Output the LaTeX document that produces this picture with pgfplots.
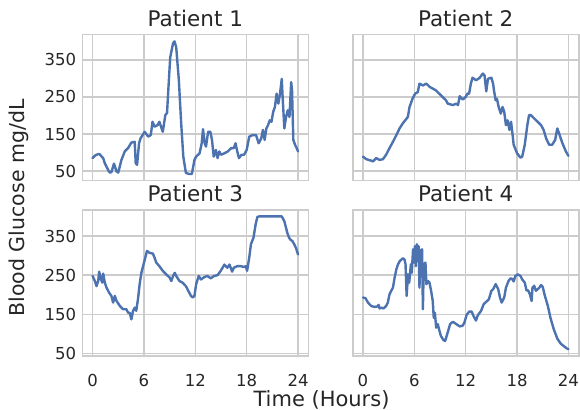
\documentclass[border=0pt]{standalone}
\usepackage{fontspec}
\setmainfont{DejaVu Sans}
\usepackage{pgfplots}
\pgfplotsset{compat=1.18}
\definecolor{sbblue}{HTML}{4C72B0}
\definecolor{gridgray}{HTML}{CCCCCC}
\definecolor{txt}{HTML}{262626}
\pgfplotsset{
  panel/.style={
    scale only axis, width=226bp, height=146bp,
    xmin=-1.2, xmax=25.2,
    xtick={0,6,12,18,24}, ytick={50,150,250,350},
    grid=major,
    major grid style={draw=gridgray, line width=1.4bp},
    axis line style={draw=gridgray, line width=1.6bp},
    major tick length=0pt,
    tick style={draw=none},
    ticklabel style={font=\fontsize{16.5bp}{18bp}\selectfont, text=txt},
    yticklabel style={inner sep=0pt, xshift=-6bp},
    xticklabel style={inner sep=0pt, anchor=north, yshift=-18bp},
    title style={font=\fontsize{21.5bp}{24bp}\selectfont, text=txt, at={(0.5,1)}, anchor=base, yshift=2bp},
    cycle list={{sbblue, line width=2.4bp, line join=round, line cap=round, mark=none}},
    anchor=south west,
    /pgf/number format/assume math mode=true,
  },
  toprow/.style={ymin=24, ymax=418},
  botrow/.style={ymin=44, ymax=417},
  glu/.style={sbblue, line width=2.4bp, line join=round, line cap=round, mark=none},
}
\begin{document}
\begin{tikzpicture}
\path[use as bounding box] (0,0) rectangle (580bp,410bp);

% Patient 1
\begin{axis}[panel, toprow, at={(82.3bp,229.3bp)}, title={Patient 1}, xticklabels={}]
\addplot[glu] coordinates {(0,85) (0.3,92) (0.66,96) (0.85,95) (1.1,88) (1.24,85) (1.43,71) (1.82,53) (2.0,46) (2.2,47) (2.5,70) (2.8,49) (3.0,46) (3.37,80) (3.76,103) (4.15,112) (4.53,127) (4.92,129) (5.04,71) (5.2,67) (5.43,125) (5.6,138) (6.08,156) (6.5,143) (6.8,147) (7.0,183) (7.25,170) (7.6,174) (7.8,183) (8.2,156) (8.5,201) (8.7,207) (8.8,250) (9.07,357) (9.4,395) (9.57,400) (9.77,384) (10.08,295) (10.35,179) (10.6,89) (10.9,45) (11.3,42) (11.6,42) (11.9,80) (12.1,89) (12.5,98) (12.75,125) (12.9,163) (13.1,125) (13.25,116) (13.5,156) (13.76,156) (13.95,134) (14.15,89) (14.4,107) (14.6,85) (14.8,103) (15,94) (15.4,98) (15.8,103) (16.2,112) (16.5,112) (16.7,125) (16.9,103) (17.1,85) (17.4,94) (17.7,94) (18,107) (18.3,143) (18.7,147) (19.1,147) (19.4,125) (19.7,138) (19.9,161) (20.1,134) (20.3,165) (20.5,174) (20.7,187) (20.9,183) (21.1,210) (21.3,223) (21.5,259) (21.7,232) (21.9,259) (22.1,299) (22.2,250) (22.4,165) (22.6,196) (22.8,214) (23.0,196) (23.2,290) (23.3,268) (23.45,134) (23.65,121) (23.84,112) (24,103)};
\end{axis}

% Patient 2
\begin{axis}[panel, toprow, at={(352.7bp,229.3bp)}, title={Patient 2}, xticklabels={}, yticklabels={}]
\addplot[glu] coordinates {(0,89) (0.39,82) (0.97,78) (1.17,76) (1.55,85) (1.94,80) (2.33,82) (2.7,94) (3.1,112) (3.5,129) (3.9,147) (4.27,165) (4.66,179) (5.24,196) (5.44,223) (5.8,246) (6.1,259) (6.4,263) (6.6,286) (7.0,281) (7.4,286) (7.8,277) (8.2,272) (8.5,268) (8.9,259) (9.3,250) (9.7,241) (9.9,232) (10.5,228) (10.9,232) (11.1,228) (11.3,252) (11.65,243) (12.0,250) (12.2,259) (12.4,259) (12.6,286) (12.8,302) (13.2,295) (13.6,301) (14.0,313) (14.2,308) (14.4,265) (14.6,299) (15.0,302) (15.2,286) (15.3,268) (15.5,241) (15.65,245) (15.85,223) (16.1,205) (16.3,223) (16.5,210) (16.7,174) (16.9,187) (17.1,161) (17.3,183) (17.5,143) (17.6,121) (18,98) (18.4,86) (18.6,89) (18.9,121) (19.2,174) (19.4,201) (19.6,201) (20.0,192) (20.4,183) (20.8,174) (21.1,161) (21.4,138) (21.75,121) (22.1,121) (22.45,134) (22.7,165) (22.9,152) (23.3,125) (23.7,103) (24,91)};
\end{axis}

% Patient 3
\begin{axis}[panel, botrow, at={(82.3bp,54.2bp)}, title={Patient 3}]
\addplot[glu] coordinates {(0,248) (0.27,235) (0.46,222) (0.66,235) (0.77,259) (0.93,244) (1.12,231) (1.24,254) (1.43,231) (1.63,218) (1.94,205) (2.2,197) (2.4,180) (2.6,197) (2.8,184) (3.2,171) (3.56,163) (3.95,163) (4.15,154) (4.34,154) (4.53,137) (4.73,159) (4.92,167) (5.1,159) (5.3,188) (5.5,227) (5.7,256) (6.1,290) (6.36,312) (6.66,307) (7.05,305) (7.25,294) (7.44,282) (7.8,273) (8.2,261) (8.6,252) (9.0,244) (9.2,235) (9.4,248) (9.6,256) (9.77,248) (10.15,235) (10.5,231) (10.9,222) (11.3,205) (11.5,197) (11.7,193) (11.9,197) (12.1,227) (12.4,248) (12.66,239) (13.05,245) (13.4,248) (13.8,242) (14.2,248) (14.6,250) (15.0,262) (15.4,277) (15.56,273) (15.75,269) (16.0,277) (16.3,259) (16.5,269) (16.9,273) (17.3,273) (17.7,271) (17.9,273) (18.05,261) (18.3,295) (18.5,329) (18.8,346) (19.05,380) (19.25,399) (19.45,400) (22.1,400) (22.4,388) (22.55,375) (22.75,358) (22.95,346) (23.1,341) (23.35,337) (23.55,329) (23.75,320) (24,303)};
\end{axis}

% Patient 4
\begin{axis}[panel, botrow, at={(352.7bp,54.2bp)}, title={Patient 4}, yticklabels={}]
\addplot[glu] coordinates {(0,193) (0.3,191) (0.58,180) (0.97,171) (1.36,169) (1.67,170) (1.83,174) (1.94,165) (2.14,167) (2.4,165) (2.7,171) (2.9,180) (3.1,201) (3.3,210) (3.5,218) (3.7,244) (3.9,265) (4.1,278) (4.3,286) (4.5,290) (4.66,293) (4.85,290) (4.97,278) (5.1,197) (5.26,252) (5.4,231) (5.6,278) (5.7,256) (5.85,316) (5.96,282) (6.06,324) (6.18,273) (6.3,329) (6.4,316) (6.5,324) (6.6,218) (6.7,312) (6.9,316) (7.0,163) (7.1,278) (7.3,282) (7.4,227) (7.6,235) (7.77,231) (7.96,210) (8.15,184) (8.27,141) (8.4,154) (8.55,116) (8.74,125) (8.93,108) (9.1,95) (9.4,84) (9.6,82) (9.9,104) (10.18,125) (10.5,131) (10.9,125) (11.3,119) (11.65,121) (11.85,129) (12.1,148) (12.4,157) (12.7,157) (12.9,146) (13.2,134) (13.4,147) (13.8,159) (14.1,176) (14.4,182) (14.7,188) (15.0,210) (15.2,214) (15.5,227) (15.8,214) (16.0,193) (16.2,180) (16.5,193) (16.7,218) (17.0,235) (17.2,241) (17.4,241) (17.6,234) (17.8,248) (18.1,252) (18.4,248) (18.6,239) (18.9,231) (19.1,211) (19.3,211) (19.5,201) (19.7,184) (19.8,218) (20.0,223) (20.2,210) (20.4,214) (20.6,218) (20.8,225) (21.0,220) (21.2,201) (21.6,171) (21.9,141) (22.3,111) (22.7,88) (23.1,75) (23.5,68) (23.8,63) (24,61)};
\end{axis}

\node[rotate=90, text=txt, font=\fontsize{20.5bp}{24bp}\selectfont] at (19bp,202bp) {Blood Glucose mg/dL};
\node[text=txt, font=\fontsize{21bp}{24bp}\selectfont] at (321.5bp,10.5bp) {Time (Hours)};
\end{tikzpicture}
\end{document}
